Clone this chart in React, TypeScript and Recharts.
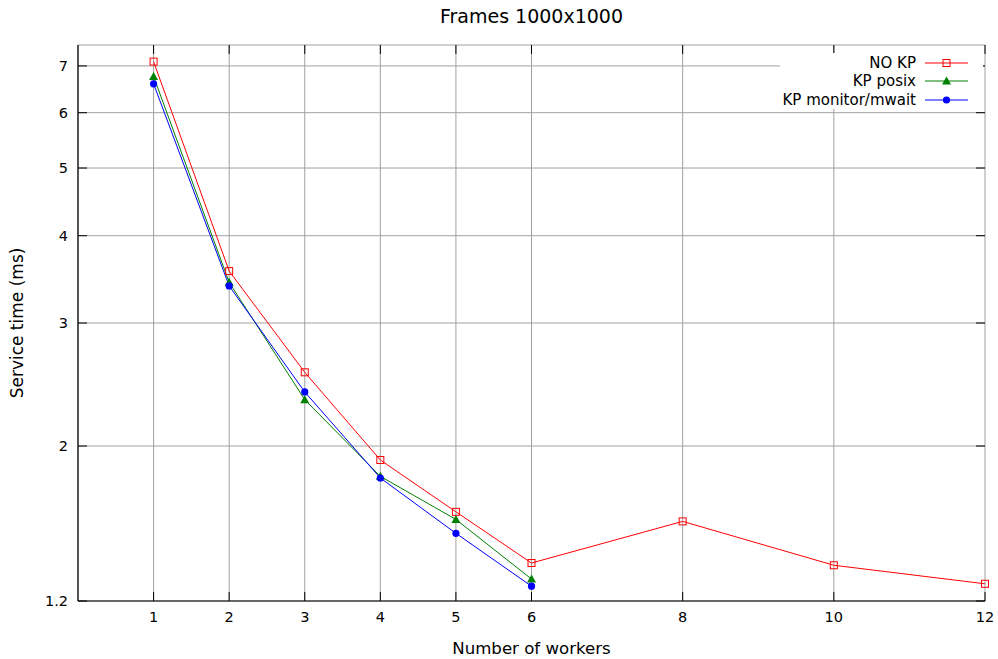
import React from "react";
import {
  CartesianGrid,
  Line,
  LineChart,
  ReferenceLine,
  XAxis,
  YAxis,
} from "recharts";

const workers = [1, 2, 3, 4, 5, 6, 8, 10, 12];
const noKp = [7.1, 3.56, 2.55, 1.91, 1.61, 1.36, 1.56, 1.35, 1.27];
const kpPosix = [6.76, 3.43, 2.33, 1.81, 1.57, 1.29];
const kpMonitor = [6.6, 3.39, 2.39, 1.8, 1.5, 1.26];

const xTicks = [1, 2, 3, 4, 5, 6, 8, 10, 12];
const yTicks = [1.2, 2, 3, 4, 5, 6, 7];
const Y_MIN = 1.2;
const Y_MAX = 7.5;

const data = workers.map((w, i) => ({
  workers: w,
  noKp: noKp[i],
  kpPosix: kpPosix[i],
  kpMonitor: kpMonitor[i],
}));

const FONT = "'DejaVu Sans', sans-serif";

type Shape = "square" | "triangle" | "circle";

function Marker({ cx, cy, shape, color }: { cx: number; cy: number; shape: Shape; color: string }) {
  if (cx == null || cy == null || Number.isNaN(cy)) return null;
  if (shape === "square") {
    return <rect x={cx - 3.5} y={cy - 3.5} width={7} height={7} fill="none" stroke={color} strokeWidth={1} />;
  }
  if (shape === "triangle") {
    return <polygon points={`${cx},${cy - 4.5} ${cx + 4.5},${cy + 3.5} ${cx - 4.5},${cy + 3.5}`} fill={color} />;
  }
  return <circle cx={cx} cy={cy} r={3.6} fill={color} />;
}

const series = [
  { key: "noKp", name: "NO KP", color: "#ff0000", shape: "square" as Shape },
  { key: "kpPosix", name: "KP posix", color: "#008000", shape: "triangle" as Shape },
  { key: "kpMonitor", name: "KP monitor/mwait", color: "#0000ff", shape: "circle" as Shape },
];

// gnuplot-style key box, sits over the top-right of the plot
function LegendBox() {
  return (
    <div
      style={{
        position: "absolute",
        left: 780,
        top: 53,
        background: "#fff",
        width: 203,
        height: 56,
        paddingTop: 0.4,
        boxSizing: "border-box",
      }}
    >
      {series.map((s) => (
        <div key={s.key} style={{ display: "flex", alignItems: "center", height: 18.6 }}>
          <span
            style={{
              width: 136,
              textAlign: "right",
              fontFamily: FONT,
              fontSize: 15,
              color: "#000",
              whiteSpace: "nowrap",
            }}
          >
            {s.name}
          </span>
          <svg width={43} height={12} style={{ marginLeft: 9 }}>
            <line x1={0} y1={6} x2={43} y2={6} stroke={s.color} strokeWidth={1} />
            <Marker cx={21.5} cy={6} shape={s.shape} color={s.color} />
          </svg>
        </div>
      ))}
    </div>
  );
}

export default function App() {
  const dx = 0.119;
  const dy = 1.03;
  return (
    <div style={{ position: "absolute", left: 0, top: 0, width: 998, height: 659, background: "#fff" }}>
      <div
        style={{
          position: "absolute",
          left: 78,
          width: 907,
          top: 6.6,
          lineHeight: "19px",
          textAlign: "center",
          fontFamily: FONT,
          fontSize: 19,
          color: "#000",
        }}
      >
        Frames 1000x1000
      </div>
      <LineChart width={998} height={659} data={data} margin={{ top: 45, right: 13, left: 8, bottom: 0 }}>
        <CartesianGrid stroke="#a0a0a0" strokeWidth={1} />
        <XAxis
          dataKey="workers"
          type="number"
          domain={[0, 12]}
          ticks={xTicks}
          interval={0}
          height={58}
          tickSize={0}
          tickMargin={11}
          tickLine={false}
          axisLine={{ stroke: "#000", strokeWidth: 1.2 }}
          tick={{ fill: "#000", fontFamily: FONT, fontSize: 14.5 }}
          label={{
            value: "Number of workers",
            position: "insideBottom",
            offset: 5,
            style: { fill: "#000", fontFamily: FONT, fontSize: 16.6 },
          }}
        />
        <YAxis
          type="number"
          scale="log"
          domain={[Y_MIN, Y_MAX]}
          allowDataOverflow
          ticks={yTicks}
          interval={0}
          width={70}
          tickSize={0}
          tickMargin={10}
          tickLine={false}
          axisLine={{ stroke: "#000", strokeWidth: 1.2 }}
          tick={{ fill: "#000", fontFamily: FONT, fontSize: 14.5 }}
          label={{
            value: "Service time (ms)",
            angle: -90,
            position: "insideLeft",
            offset: 9,
            style: { fill: "#000", fontFamily: FONT, fontSize: 17, textAnchor: "middle" },
          }}
        />
        {yTicks.map((v) => (
          <ReferenceLine
            key={`yl-${v}`}
            segment={[{ x: 0, y: v }, { x: dx, y: v }]}
            stroke="#000"
            ifOverflow="visible"
          />
        ))}
        {yTicks.map((v) => (
          <ReferenceLine
            key={`yr-${v}`}
            segment={[{ x: 12, y: v }, { x: 12 - dx, y: v }]}
            stroke="#000"
            ifOverflow="visible"
          />
        ))}
        {xTicks.map((t) => (
          <ReferenceLine
            key={`xb-${t}`}
            segment={[{ x: t, y: Y_MIN }, { x: t, y: Y_MIN * dy }]}
            stroke="#000"
            ifOverflow="visible"
          />
        ))}
        {xTicks.map((t) => (
          <ReferenceLine
            key={`xt-${t}`}
            segment={[{ x: t, y: Y_MAX }, { x: t, y: Y_MAX / dy }]}
            stroke="#000"
            ifOverflow="visible"
          />
        ))}
        {series.map((s) => (
          <Line
            key={s.key}
            dataKey={s.key}
            name={s.name}
            stroke={s.color}
            strokeWidth={1}
            isAnimationActive={false}
            connectNulls={false}
            dot={(p: any) => <Marker key={`${s.key}-${p.index}`} cx={p.cx} cy={p.cy} shape={s.shape} color={s.color} />}
            activeDot={false}
          />
        ))}
      </LineChart>
      <LegendBox />
    </div>
  );
}
